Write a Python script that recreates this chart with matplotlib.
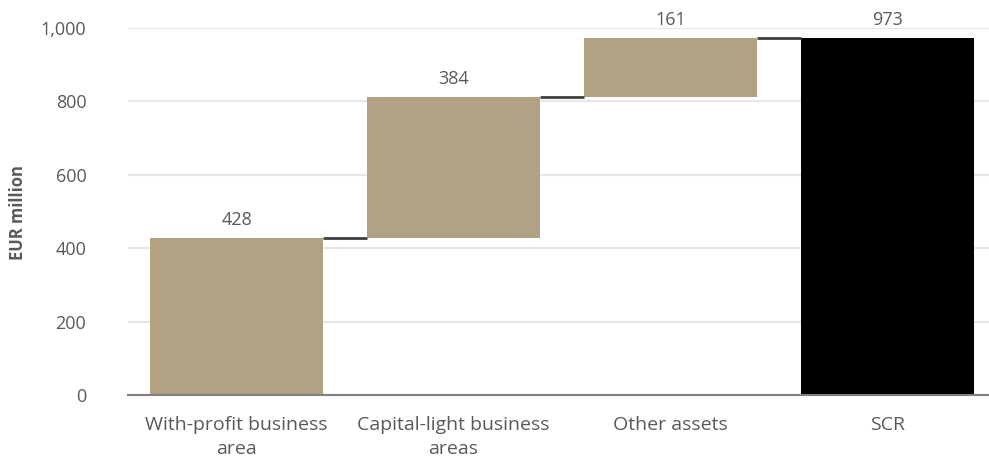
import matplotlib
matplotlib.use("Agg")
import matplotlib.pyplot as plt
import numpy as np

# waterfall data (EUR million)
categories = ["With-profit business\narea", "Capital-light business\nareas", "Other assets", "SCR"]
steps = [428, 384, 161]
total = 973

BAR_COLOR = "#b1a283"
TOTAL_COLOR = "#000000"
TEXT_COLOR = "#595959"

plt.rcParams["font.family"] = ["Open Sans", "DejaVu Sans"]

fig = plt.figure(figsize=(9.89, 4.61), dpi=100)
W, H = 989, 461
ax = fig.add_axes([128 / W, 66 / H, (W - 128) / W, (395 - 28) / H])

x = np.arange(len(categories))
width = 0.8

# floating bars for each step, then the total bar from zero
bottoms = np.concatenate([[0], np.cumsum(steps)[:-1]])
tops = bottoms + np.array(steps)
ax.bar(x[:-1], steps, width, bottom=bottoms, color=BAR_COLOR, zorder=2)
ax.bar(x[-1], total, width, color=TOTAL_COLOR, zorder=2)

# connector lines between bars
levels = list(tops)
for i, lvl in enumerate(levels):
    ax.plot([x[i] + width / 2, x[i + 1] - width / 2], [lvl, lvl],
            color="#404040", lw=2, zorder=3, solid_capstyle="butt")

# value labels
values = steps + [total]
label_y = list(tops) + [total]
for xi, v, y in zip(x, values, label_y):
    ax.text(xi, y + 24, f"{v:,}", ha="center", va="bottom",
            fontsize=13, color=TEXT_COLOR, clip_on=False)

ax.set_ylim(0, 1000)
ax.set_xlim(-0.5, -0.5 + (W - 128) / 217)
ax.set_yticks(range(0, 1001, 200))
ax.set_yticklabels([f"{t:,}" for t in range(0, 1001, 200)])
ax.set_xticks(x)
ax.set_xticklabels(categories)
ax.tick_params(axis="both", length=0, labelsize=13, colors=TEXT_COLOR)
ax.tick_params(axis="y", pad=30)
ax.tick_params(axis="x", pad=15, labelsize=14)
for lbl in ax.get_xticklabels():
    lbl.set_linespacing(1.45)

ax.yaxis.grid(True, color="#e6e6e6", lw=1.5, zorder=0)
ax.set_axisbelow(True)
for s in ["top", "right", "left"]:
    ax.spines[s].set_visible(False)
ax.spines["bottom"].set_color("#808080")
ax.spines["bottom"].set_linewidth(1.5)
ax.spines["bottom"].set_zorder(4)

fig.text(18 / W, (461 - 213) / H, "EUR million", rotation=90, ha="center", va="center",
         fontsize=12, fontweight="bold", color=TEXT_COLOR)

fig.savefig("out.png", dpi=100)
